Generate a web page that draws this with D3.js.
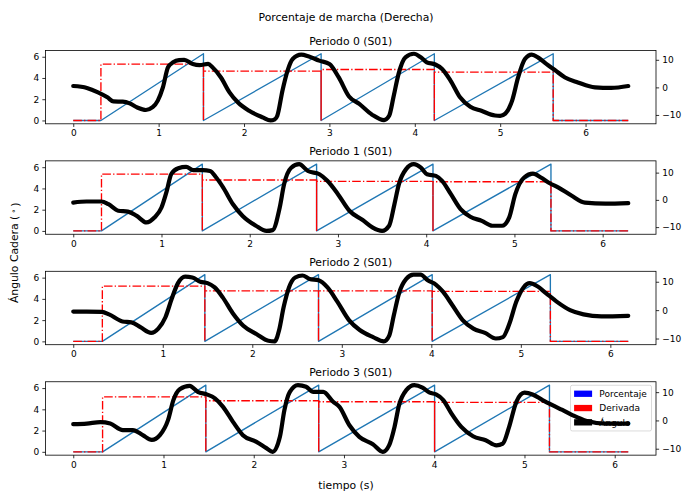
<!DOCTYPE html>
<html>
<head>
<meta charset="utf-8">
<script src="https://cdn.jsdelivr.net/npm/d3@7"></script>
<style>
  body { margin: 0; background: #fff; }
  svg { display: block; font-family: "DejaVu Sans", sans-serif; }
</style>
</head>
<body>
<script>
// ---- data -------------------------------------------------------------
const figTitle = "Porcentaje de marcha (Derecha)";
const xLabel = "tiempo (s)";
const panelTitles = ["Periodo 0 (S01)", "Periodo 1 (S01)", "Periodo 2 (S01)", "Periodo 3 (S01)"];
const xTicks = [0, 1, 2, 3, 4, 5, 6];
const phaseTicks = [0, 2, 4, 6];
const angleTicks = [-10, 0, 10];
const legendLabels = ["Porcentaje", "Derivada", "Ángulo"];
const legendColors = ["blue", "red", "black"];

// gait phase runs 0 -> 2π between consecutive heel strikes
const phaseMax = 6.283;
// recording length of each period (s)
const durations = [6.5, 6.29, 6.2, 6.15];
// heel-strike instants (s)
const heelStrikes = [
  [0.324, 1.525, 2.903, 4.229, 5.621],
  [0.320, 1.463, 2.758, 4.077, 5.414],
  [0.325, 1.470, 2.740, 4.010, 5.330],
  [0.325, 1.469, 2.720, 4.004, 5.277]
];
// phase derivative (rad/s) for each stride
const derivLevels = [
  [5.30, 4.65, 4.80, 4.55],
  [5.35, 4.79, 4.66, 4.63],
  [5.20, 4.75, 4.75, 4.70],
  [5.18, 4.81, 4.71, 4.65]
];
// hip angle (deg) samples: [t, angle]
const angle0 = [[0,0.5],[0.16,-0.2],[0.29,-1.8],[0.40,-3.6],[0.47,-5.1],[0.58,-5.2],[0.66,-5.8],[0.75,-7.3],[0.85,-8.2],[0.93,-7.2],[0.99,-4.8],[1.05,0],[1.11,7.3],[1.17,9.1],[1.24,9.9],[1.30,10.0],[1.40,8.5],[1.48,8.1],[1.58,8.5],[1.63,7.3],[1.73,3.6],[1.83,-1.8],[1.93,-5.5],[2.06,-8.5],[2.22,-10.9],[2.31,-12.0],[2.36,-11.6],[2.39,-10.3],[2.45,-1.2],[2.51,6.1],[2.57,10.3],[2.67,11.9],[2.76,11.2],[2.88,9.7],[3.0,8.5],[3.11,3.6],[3.23,-3.3],[3.35,-6.0],[3.5,-9.9],[3.64,-11.9],[3.70,-10.3],[3.75,-3.6],[3.81,4.9],[3.89,10.9],[3.99,12.2],[4.07,10.9],[4.14,9.1],[4.24,8.3],[4.32,6.7],[4.42,2.4],[4.53,-3.6],[4.65,-7.0],[4.78,-8.5],[4.94,-10.2],[5.0,-10.3],[5.06,-9.5],[5.14,-4.8],[5.21,3.6],[5.29,10.3],[5.37,11.9],[5.45,10.7],[5.54,8.5],[5.64,6.3],[5.76,3.6],[5.91,1.8],[6.11,0],[6.30,-0.2],[6.5,0.5]];
const angle1 = [[0,-1.0],[0.15,-0.6],[0.32,-0.6],[0.40,-1.6],[0.51,-4.0],[0.62,-4.3],[0.72,-5.9],[0.83,-8.3],[0.92,-6.5],[1.0,-2.8],[1.06,3.3],[1.11,9.4],[1.19,11.6],[1.28,12.1],[1.36,10.9],[1.47,10.9],[1.55,10.6],[1.62,8.2],[1.70,4.5],[1.81,-1.6],[1.92,-5.9],[2.07,-9.5],[2.19,-11.4],[2.26,-11.1],[2.34,-2.8],[2.39,5.8],[2.47,11.8],[2.56,13.1],[2.66,10.6],[2.79,9.4],[2.88,7.0],[3.0,2.1],[3.13,-4.0],[3.28,-7.4],[3.39,-10.1],[3.50,-11.4],[3.58,-9.5],[3.64,-1.6],[3.69,5.7],[3.77,11.2],[3.86,13.1],[3.94,11.8],[4.01,9.4],[4.11,8.8],[4.18,7.0],[4.28,2.1],[4.39,-3.4],[4.50,-6.2],[4.63,-7.7],[4.75,-9.5],[4.86,-9.5],[4.94,-6.5],[5.01,2.1],[5.11,8.2],[5.21,9.6],[5.30,8.2],[5.39,6.3],[5.50,4.5],[5.65,1.5],[5.80,-1.0],[6.03,-1.4],[6.29,-1.2]];
const angle2 = [[0,-0.5],[0.15,-0.5],[0.32,-0.6],[0.40,-1.5],[0.55,-4.0],[0.65,-4.3],[0.75,-6.0],[0.87,-8.0],[0.95,-6.5],[1.03,-2.5],[1.10,4.0],[1.17,9.5],[1.25,11.8],[1.33,11.5],[1.42,10.0],[1.50,9.5],[1.58,8.0],[1.67,4.5],[1.78,-1.0],[1.90,-5.5],[2.05,-8.5],[2.18,-10.8],[2.25,-11.0],[2.30,-7.0],[2.35,1.0],[2.41,8.0],[2.48,11.5],[2.56,12.2],[2.64,11.0],[2.74,10.5],[2.84,8.0],[2.95,3.0],[3.08,-3.5],[3.20,-7.0],[3.35,-9.5],[3.47,-11.0],[3.53,-9.0],[3.58,-2.0],[3.64,6.0],[3.72,11.0],[3.80,12.5],[3.88,12.5],[3.96,10.5],[4.05,9.0],[4.13,6.5],[4.23,2.0],[4.35,-3.5],[4.47,-6.5],[4.60,-8.0],[4.72,-10.0],[4.80,-9.5],[4.87,-5.0],[4.95,3.0],[5.03,8.0],[5.10,9.5],[5.18,8.5],[5.28,6.0],[5.40,3.0],[5.55,0],[5.70,-1.5],[5.90,-2.2],[6.20,-2.0]];
const angle3 = [[0,-1.3],[0.15,-1.1],[0.30,-0.6],[0.41,-1.1],[0.55,-3.4],[0.66,-3.4],[0.77,-5.2],[0.87,-6.9],[0.96,-5.2],[1.05,0.1],[1.11,7.2],[1.18,11.0],[1.29,12.2],[1.38,10.1],[1.48,9.2],[1.57,7.8],[1.66,4.8],[1.77,-0.5],[1.88,-5.2],[2.03,-7.6],[2.14,-9.8],[2.21,-11.1],[2.29,-5.8],[2.34,3.7],[2.40,10.1],[2.49,12.5],[2.58,11.9],[2.66,10.1],[2.77,10.1],[2.88,6.6],[2.95,4.8],[3.06,-1.7],[3.17,-5.8],[3.32,-8.4],[3.43,-11.1],[3.50,-8.8],[3.56,-2.3],[3.61,5.4],[3.69,10.7],[3.78,12.5],[3.87,11.6],[3.95,9.8],[4.02,9.2],[4.10,7.2],[4.19,2.5],[4.30,-2.3],[4.43,-5.6],[4.57,-7.0],[4.69,-8.8],[4.76,-8.2],[4.83,-2.3],[4.91,6.6],[5.00,9.8],[5.09,9.2],[5.20,7.2],[5.31,5.4],[5.42,3.7],[5.53,1.9],[5.68,-0.1],[5.90,-1.1],[6.15,-1.1]];
const angles = [angle0, angle1, angle2, angle3];

// ---- layout -----------------------------------------------------------
const W = 684, H = 491;
const axLeft = 45.5, axRight = 656;
const axTop0 = 50.4, axPitch = 110.45, axH = 73.4;
const fs = 9, fsLarge = 10.8;
const tickLen = 3.15, tickPad = 3.15;

const svg = d3.select("body").append("svg")
  .attr("width", W).attr("height", H)
  .attr("viewBox", `0 0 ${W} ${H}`);

svg.append("text")
  .attr("x", 346).attr("y", 17).attr("dy", "0.35em")
  .attr("text-anchor", "middle").attr("font-size", fsLarge)
  .text(figTitle);

svg.append("text")
  .attr("x", 346).attr("y", 485).attr("dy", "0.35em")
  .attr("text-anchor", "middle").attr("font-size", fsLarge)
  .text(xLabel);

const yLab = svg.append("text")
  .attr("transform", `translate(14.5,252.8) rotate(-90)`)
  .attr("dy", "0.35em")
  .attr("text-anchor", "middle").attr("font-size", fsLarge);
yLab.append("tspan").text("Ángulo Cadera (\u2009");
yLab.append("tspan").attr("font-size", 7.5).attr("dy", "-0.35em").text("\u2218");
yLab.append("tspan").attr("dy", "0.3em").text("\u2009)");

// matplotlib-style autoscale: 5% margin on both sides
function padded(lo, hi) { const m = (hi - lo) * 0.05; return [lo - m, hi + m]; }

function phaseSeries(hs, T) {
  const pts = [[0, 0], [hs[0], 0]];
  for (let i = 1; i < hs.length; i++) pts.push([hs[i], phaseMax], [hs[i], 0]);
  pts.push([T, 0]);
  return pts;
}
function derivSeries(hs, lv, T) {
  const pts = [[0, 0], [hs[0], 0]];
  for (let i = 0; i < lv.length; i++) pts.push([hs[i], lv[i]], [hs[i + 1], lv[i]], [hs[i + 1], 0]);
  pts.push([T, 0]);
  return pts;
}

function styleAxis(g) {
  g.select(".domain").remove();
  g.selectAll(".tick line").attr("stroke", "#000").attr("stroke-width", 0.8);
  g.selectAll(".tick text").attr("fill", "#000").attr("font-size", fs)
    .attr("font-family", "DejaVu Sans, sans-serif");
}

panelTitles.forEach((title, p) => {
  const top = axTop0 + p * axPitch, bottom = top + axH;
  const T = durations[p];
  const x = d3.scaleLinear().domain(padded(0, T)).range([axLeft, axRight]);
  const yL = d3.scaleLinear().domain(padded(0, phaseMax)).range([bottom, top]);
  const ext = d3.extent(angles[p], d => d[1]);
  const yR = d3.scaleLinear().domain(padded(ext[0], ext[1])).range([bottom, top]);

  const g = svg.append("g");
  g.append("rect").attr("x", axLeft).attr("y", top)
    .attr("width", axRight - axLeft).attr("height", axH).attr("fill", "#fff");

  const line = d3.line().x(d => x(d[0])).y(d => yL(d[1]));
  g.append("path").datum(phaseSeries(heelStrikes[p], T))
    .attr("d", line).attr("fill", "none")
    .attr("stroke", "#1f77b4").attr("stroke-width", 1.35)
    .attr("stroke-linejoin", "round");
  g.append("path").datum(derivSeries(heelStrikes[p], derivLevels[p], T))
    .attr("d", line).attr("fill", "none")
    .attr("stroke", "red").attr("stroke-width", 1.35)
    .attr("stroke-dasharray", "8.64,2.16,1.35,2.16");

  // axes
  g.append("g").attr("transform", `translate(0,${bottom})`)
    .call(d3.axisBottom(x).tickValues(xTicks).tickSize(tickLen).tickPadding(tickPad).tickFormat(d3.format("d")))
    .call(styleAxis);
  g.append("g").attr("transform", `translate(${axLeft},0)`)
    .call(d3.axisLeft(yL).tickValues(phaseTicks).tickSize(tickLen).tickPadding(tickPad).tickFormat(d3.format("d")))
    .call(styleAxis);

  g.append("text").attr("x", (axLeft + axRight) / 2).attr("y", top - 5.4)
    .attr("text-anchor", "middle").attr("font-size", fsLarge).text(title);

  // legend on the last panel
  if (p === panelTitles.length - 1) {
    const lw = 81, lh = 45.7;
    const lx = axRight - 4.5 - lw, ly = top + 3.5;
    const lg = g.append("g");
    lg.append("rect").attr("x", lx).attr("y", ly).attr("width", lw).attr("height", lh)
      .attr("rx", 1.8).attr("fill", "#fff").attr("fill-opacity", 0.8)
      .attr("stroke", "#ccc").attr("stroke-opacity", 0.8).attr("stroke-width", 0.9);
    legendLabels.forEach((lab, i) => {
      const cy = ly + 3.6 + 4.9 + i * 14.3;
      lg.append("rect").attr("x", lx + 3.6).attr("y", cy - 3.15)
        .attr("width", 18).attr("height", 6.3).attr("fill", legendColors[i]);
      lg.append("text").attr("x", lx + 3.6 + 18 + 7.2).attr("y", cy).attr("dy", "0.35em")
        .attr("font-size", fs).text(lab);
    });
  }

  // twin axis: hip angle
  const g2 = svg.append("g");
  g2.append("path").datum(angles[p])
    .attr("d", d3.line().x(d => x(d[0])).y(d => yR(d[1])).curve(d3.curveMonotoneX))
    .attr("fill", "none").attr("stroke", "#000").attr("stroke-width", 4.2)
    .attr("stroke-linecap", "round").attr("stroke-linejoin", "round");

  g2.append("g").attr("transform", `translate(${axRight},0)`)
    .call(d3.axisRight(yR).tickValues(angleTicks).tickSize(tickLen).tickPadding(tickPad).tickFormat(d3.format("d")))
    .call(styleAxis);

  g2.append("rect").attr("x", axLeft).attr("y", top)
    .attr("width", axRight - axLeft).attr("height", axH)
    .attr("fill", "none").attr("stroke", "#000").attr("stroke-width", 0.8);
});
</script>
</body>
</html>
